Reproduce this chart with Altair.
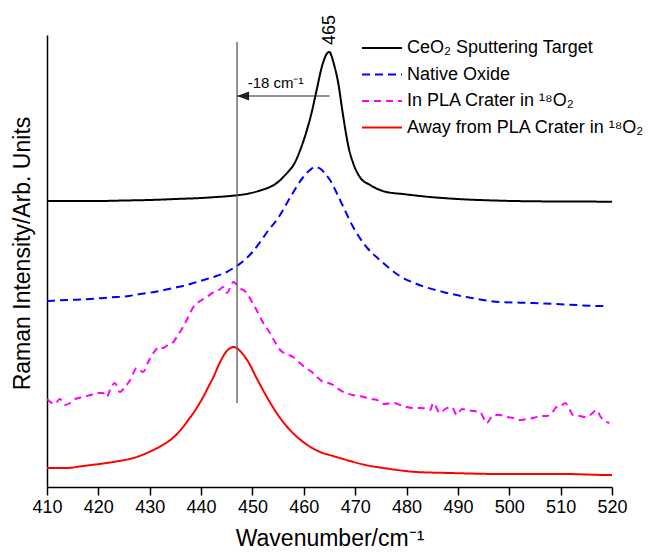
import altair as alt
import pandas as pd

# ---- data (intensity in arbitrary units) ----
black_wn = [410, 415, 420, 425, 430, 435, 440, 443, 445.6, 449.5, 451.5, 453.4, 455, 456, 457,
            458, 459.3, 460.6, 461.5, 462.5, 463.5, 464, 464.5, 465, 465.4, 465.8, 466.3, 466.7,
            467.4, 468, 468.7, 469.6, 470.9, 472.9, 476.1, 479.3, 482.6, 487, 491.8, 497, 504.6,
            512, 520]
black_I = [286, 286, 286, 286.5, 287, 288, 289, 290, 291, 293.7, 296.5, 300, 305, 310, 315.5,
           322, 337, 357, 374, 397, 420, 428, 433.5, 435, 431, 424, 414, 404,
           380, 360, 340, 324, 310, 302, 295, 293, 291, 289, 287.5, 286.5, 285.7,
           285.5, 285.3]

blue_wn = [410, 414, 418.4, 422, 426, 428.1, 431, 434.6, 436.5, 438.5, 441.1, 443, 445, 446.3,
           448, 450, 451.5, 453, 455, 457.5, 459.9, 461.2, 462.2, 463.3, 464.2, 465.1, 466.4,
           467.7, 469.6, 472.2, 474.8, 478.7, 482, 487.1, 491.7, 498.2, 504.7, 511, 517.7, 519]
blue_I = [186, 187, 188, 189.5, 191, 193, 195, 199, 201, 204, 208, 211, 215, 219,
          225, 235, 245, 256, 269, 291, 310, 317, 320, 318, 313, 307, 294,
          280, 260, 240, 227, 211, 203, 195, 190, 185, 184, 182.5, 181, 181]

mag_wn = [410, 411.5, 412.5, 413.5, 414.5, 415.5, 417, 418.5, 420, 420.9, 421.6, 422.5, 423.2,
          424.2, 425.2, 426.2, 427.5, 428.7, 429.7, 430.7, 432, 432.6, 433.5, 434.6, 435.5,
          436.5, 437.5, 438.5, 439.8, 441.1, 442.5, 443.5, 444.3, 445, 446.3, 447.5, 448.9,
          449.8, 450.8, 452, 453.4, 454.5, 455.4, 456.5, 457.9, 459, 459.9, 461.8, 462.8,
          463.8, 464.8, 465.7, 466.5, 467.7, 469.5, 471.6, 473, 474.2, 475.6, 477.4, 479.3,
          481.3, 483, 484.6, 485.2, 486.5, 487.5, 488.8, 489.8, 490.8, 491.7, 493, 494.3,
          495.6, 496.9, 498.2, 499.5, 500.8, 502.1, 503.4, 504.7, 506, 507.3, 508.3, 509.2,
          510.1, 510.9, 511.7, 512.4, 513.7, 515, 516, 517, 517.8, 518.6, 519.5]
mag_I = [88, 83, 88, 82, 84, 88, 90, 92, 94, 94, 90, 100, 104,
         95, 100, 107, 119, 115, 125, 134, 140, 139, 142, 145, 152,
         160, 170, 180, 186, 190, 195, 197, 200, 194, 205, 199, 194,
         186, 177, 165, 154, 144, 137, 133, 130, 125, 121, 114, 109,
         105, 104, 102, 99, 95, 92, 90, 88, 87, 83, 84, 81,
         79, 79, 77, 84, 74, 78, 80, 72, 78, 77, 76, 75,
         64, 72, 72, 70, 69, 67, 68, 69, 71, 71, 74, 80,
         81, 84, 78, 72, 71, 70, 73, 77, 70, 66, 64]

red_wn = [410, 413.8, 417, 421.6, 424, 426.8, 429, 430.7, 432.5, 434, 435.3, 436.5, 437.5,
          438.5, 439.5, 440.4, 441.4, 442.4, 443.7, 445, 445.7, 446.3, 446.9, 447.6, 449.2,
          450.8, 452.8, 454.7, 457.3, 459.9, 463.2, 465.7, 467, 469, 472, 475.5, 482, 488.5,
          498.2, 505, 511.2, 515, 519, 520]
red_I = [19, 19, 21, 24, 26, 29, 33, 37, 42, 47, 53, 60, 67,
         74, 82, 90, 100, 110, 125, 136, 139, 140, 139, 136, 125,
         109, 90, 74, 57, 45, 35, 31, 29, 26, 22, 19, 15, 14,
         13, 13, 13, 12.5, 12, 12]

series_names = ["CeO\u2082 Sputtering Target", "Native Oxide",
                "In PLA Crater in \u00b9\u2078O\u2082", "Away from PLA Crater in \u00b9\u2078O\u2082"]
series_colors = ["#000000", "#0000FF", "#FF00FF", "#FF0000"]
series_dashes = [[1, 0], [8, 5], [7, 5], [1, 0]]

x_ticks = list(range(410, 521, 5))

peak_wn = 465
shift_wn = 447
shift_label = "-18 cm\u207b\u00b9"
rule_top, rule_bottom = 445, 84
arrow_y = 391
shift_text_wn, shift_text_y = 454.5, 404.5
peak_text_y = 457

FONT = "Liberation Sans, Arial, Helvetica, sans-serif"

rows = []
for name, wn, inten in zip(series_names, [black_wn, blue_wn, mag_wn, red_wn],
                           [black_I, blue_I, mag_I, red_I]):
    for a, b in zip(wn, inten):
        rows.append({"series": name, "wn": a, "I": b})
df = pd.DataFrame(rows)

xscale = alt.Scale(domain=[410, 520], nice=False, zero=False)
yscale = alt.Scale(domain=[0, 452], nice=False, zero=False)

legend_kw = dict(title=None, orient="none", legendX=315, legendY=4, padding=0,
                 symbolType="M-1.5,0H5.1667", symbolSize=144, symbolStrokeWidth=2,
                 labelFontSize=18, labelFont=FONT, labelColor="black", labelOffset=27,
                 rowPadding=8.5, labelLimit=400)

lines = alt.Chart(df).mark_line(strokeWidth=2, interpolate="monotone").encode(
    x=alt.X("wn:Q", scale=xscale, title="Wavenumber/cm\u207b\u00b9",
            axis=alt.Axis(values=x_ticks, grid=False, labelFlush=False, labelOverlap=False,
                          labelExpr="datum.value % 10 === 0 ? datum.label : ''",
                          tickSize={"condition": {"test": "datum.value % 10 === 0", "value": 8}, "value": 5},
                          tickColor="black", tickWidth=1.5, domainColor="black", domainWidth=1.5,
                          labelFontSize=18, labelFont=FONT, labelColor="black", labelPadding=3,
                          titleFontSize=23, titleFont=FONT, titleFontWeight="normal",
                          titleColor="black", titlePadding=11)),
    y=alt.Y("I:Q", scale=yscale, title="Raman Intensity/Arb. Units",
            axis=alt.Axis(ticks=False, labels=False, grid=False, domainColor="black",
                          domainWidth=1.5, titleFontSize=23, titleFont=FONT,
                          titleFontWeight="normal", titleColor="black", titlePadding=13,
                          titleY=218)),
    color=alt.Color("series:N", scale=alt.Scale(domain=series_names, range=series_colors),
                    legend=alt.Legend(**legend_kw)),
    strokeDash=alt.StrokeDash("series:N", scale=alt.Scale(domain=series_names, range=series_dashes),
                              legend=alt.Legend(**legend_kw)),
    order=alt.Order("wn:Q"),
)

ann_rule = pd.DataFrame({"wn": [shift_wn], "I": [rule_top], "I2": [rule_bottom]})
vrule = alt.Chart(ann_rule).mark_rule(color="#5a5a5a", strokeWidth=1.3).encode(
    x=alt.X("wn:Q", scale=xscale),
    y=alt.Y("I:Q", scale=yscale),
    y2="I2:Q",
)

ann_arrow = pd.DataFrame({"wn": [peak_wn], "wn2": [shift_wn], "I": [arrow_y]})
arrow_line = alt.Chart(ann_arrow).mark_rule(color="#222222", strokeWidth=1.2).encode(
    x=alt.X("wn:Q", scale=xscale),
    x2="wn2:Q",
    y=alt.Y("I:Q", scale=yscale),
)
arrow_head = alt.Chart(ann_arrow).mark_point(
    shape="M-1,0L1,-0.75L1,0.75Z", size=144, filled=True, color="#222222", opacity=1, xOffset=6
).encode(
    x=alt.X("wn2:Q", scale=xscale),
    y=alt.Y("I:Q", scale=yscale),
)

ann_text = pd.DataFrame({"wn": [shift_text_wn], "I": [shift_text_y], "t": [shift_label]})
shift_txt = alt.Chart(ann_text).mark_text(fontSize=15, font=FONT, color="black").encode(
    x=alt.X("wn:Q", scale=xscale),
    y=alt.Y("I:Q", scale=yscale),
    text="t:N",
)

ann_peak = pd.DataFrame({"wn": [peak_wn], "I": [peak_text_y], "t": [str(peak_wn)]})
peak_txt = alt.Chart(ann_peak).mark_text(fontSize=18, font=FONT, color="black", angle=270).encode(
    x=alt.X("wn:Q", scale=xscale),
    y=alt.Y("I:Q", scale=yscale),
    text="t:N",
)

chart = alt.layer(lines, vrule, arrow_line, arrow_head, shift_txt, peak_txt).properties(
    width=565, height=452,
    background="white",
    autosize=alt.AutoSizeParams(type="none"),
    padding={"left": 47, "top": 35, "right": 37, "bottom": 72},
).configure_view(stroke=None)

chart.save("out.html", embed_options={"renderer": "svg", "actions": False})
